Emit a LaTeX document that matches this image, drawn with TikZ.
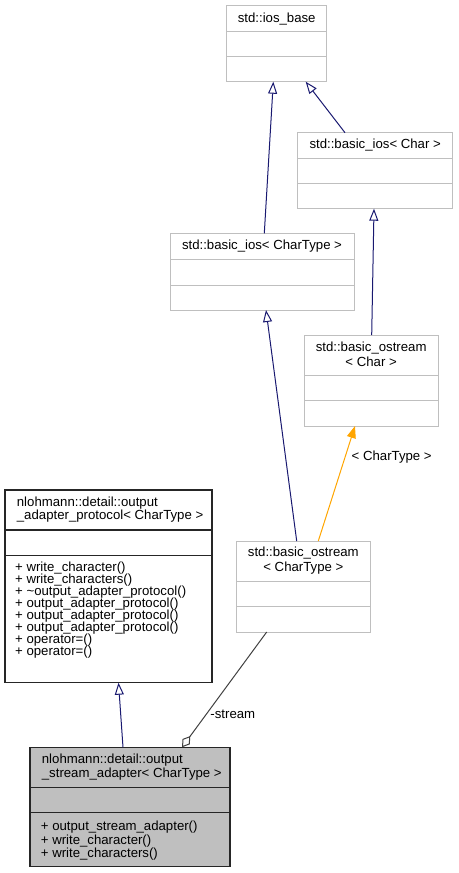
\documentclass[tikz,border=0pt]{standalone}
\usepackage{fontspec}
\setmainfont{Liberation Sans}
\usetikzlibrary{arrows.meta,calc}
\definecolor{boxgray}{HTML}{BFBFBF}
\definecolor{darkline}{HTML}{404040}
\definecolor{edgeblue}{HTML}{191970}
\definecolor{edgeorange}{HTML}{FFA500}
\lineskiplimit=-30pt
\begin{document}
\begin{tikzpicture}[x=1pt,y=-1pt,
  lightbox/.style={draw=boxgray, line width=1pt, fill=white, anchor=north west, inner sep=0pt, outer sep=0pt},
  darkbox/.style={draw=black!85, line width=1.2pt, fill=white, anchor=north west, inner sep=0pt, outer sep=0pt},
  focusbox/.style={draw=black!85, line width=1.2pt, fill=boxgray, anchor=north west, inner sep=0pt, outer sep=0pt},
  lightdiv/.style={draw=boxgray, line width=1pt},
  darkdiv/.style={draw=black!85, line width=1.2pt},
  txt/.style={inner sep=0pt, font=\fontsize{13.2}{14}\selectfont},
  inh/.style={draw=edgeblue, line width=1pt, -{Triangle[open, length=12pt, width=9pt]}},
  tmpl/.style={draw=edgeorange, line width=1pt, -{Triangle[length=12pt, width=9pt, fill=edgeorange]}},
  aggr/.style={draw=darkline, line width=1pt, -{Diamond[open, length=14pt, width=9pt]}}]
\useasboundingbox (0,0) rectangle (458,873);

% std::ios_base
\node[lightbox, minimum width=100pt, minimum height=76pt] (iosbase) at (226.7,5.7) {};
\draw[lightdiv] ($(iosbase.north west)+(0,26)$) -- ($(iosbase.north east)+(0,26)$);
\draw[lightdiv] ($(iosbase.north west)+(0,51)$) -- ($(iosbase.north east)+(0,51)$);
\node[txt] (iosbaseT) at ($(iosbase.north)+(0,13)$) {std::ios\_base};

% std::basic_ios< Char >
\node[lightbox, minimum width=155pt, minimum height=76pt] (iosChar) at (297.7,132.7) {};
\draw[lightdiv] ($(iosChar.north west)+(0,25.6)$) -- ($(iosChar.north east)+(0,25.6)$);
\draw[lightdiv] ($(iosChar.north west)+(0,50.6)$) -- ($(iosChar.north east)+(0,50.6)$);
\node[txt] (iosCharT) at ($(iosChar.north)+(0,12.8)$) {std::basic\_ios< Char >};

% std::basic_ios< CharType >
\node[lightbox, minimum width=184pt, minimum height=76.7pt] (iosCT) at (170,233.3) {};
\draw[lightdiv] ($(iosCT.north west)+(0,26)$) -- ($(iosCT.north east)+(0,26)$);
\draw[lightdiv] ($(iosCT.north west)+(0,51.7)$) -- ($(iosCT.north east)+(0,51.7)$);
\node[txt] (iosCTT) at ($(iosCT.north)+(0,13)$) {std::basic\_ios< CharType >};

% std::basic_ostream< Char >
\node[lightbox, minimum width=133.7pt, minimum height=91pt] (ostrChar) at (304.3,335) {};
\draw[lightdiv] ($(ostrChar.north west)+(0,40.3)$) -- ($(ostrChar.north east)+(0,40.3)$);
\draw[lightdiv] ($(ostrChar.north west)+(0,65.7)$) -- ($(ostrChar.north east)+(0,65.7)$);
\node[txt, align=center, font=\fontsize{13.2}{15}\selectfont] (ostrCharT) at ($(ostrChar.north)+(0,19.4)$) {std::basic\_ostream\\< Char >};

% std::basic_ostream< CharType >
\node[lightbox, minimum width=133.3pt, minimum height=91pt] (ostrCT) at (236.7,541) {};
\draw[lightdiv] ($(ostrCT.north west)+(0,40.3)$) -- ($(ostrCT.north east)+(0,40.3)$);
\draw[lightdiv] ($(ostrCT.north west)+(0,65.7)$) -- ($(ostrCT.north east)+(0,65.7)$);
\node[txt, align=center, font=\fontsize{13.2}{15}\selectfont] (ostrCTT) at ($(ostrCT.north)+(0,19.2)$) {std::basic\_ostream\\< CharType >};

% nlohmann::detail::output_adapter_protocol< CharType >
\node[darkbox, minimum width=207pt, minimum height=192.7pt] (proto) at (5,490) {};
\draw[darkdiv] ($(proto.north west)+(0,40)$) -- ($(proto.north east)+(0,40)$);
\draw[darkdiv] ($(proto.north west)+(0,65.3)$) -- ($(proto.north east)+(0,65.3)$);
\node[txt, align=left, anchor=north west, font=\fontsize{13.2}{13.5}\selectfont] (protoT) at ($(proto.north west)+(11.7,6.5)$) {nlohmann::detail::output\\\_adapter\_protocol< CharType >};
\node[txt, align=left, anchor=north west, font=\fontsize{13.2}{12}\selectfont] (protoM) at ($(proto.north west)+(10,71.5)$) {+ write\_character()\\+ write\_characters()\\+ \textasciitilde output\_adapter\_protocol()\\+ output\_adapter\_protocol()\\+ output\_adapter\_protocol()\\+ output\_adapter\_protocol()\\+ operator=()\\+ operator=()};

% nlohmann::detail::output_stream_adapter< CharType >
\node[focusbox, minimum width=200pt, minimum height=119.4pt] (adapter) at (30,747.3) {};
\draw[darkdiv] ($(adapter.north west)+(0,40)$) -- ($(adapter.north east)+(0,40)$);
\draw[darkdiv] ($(adapter.north west)+(0,65.4)$) -- ($(adapter.north east)+(0,65.4)$);
\node[txt, align=left, anchor=north west, font=\fontsize{13.2}{14.3}\selectfont] (adapterT) at ($(adapter.north west)+(11.7,6.3)$) {nlohmann::detail::output\\\_stream\_adapter< CharType >};
\node[txt, align=left, anchor=north west, font=\fontsize{13.2}{13.7}\selectfont] (adapterM) at ($(adapter.north west)+(10.7,73.3)$) {+ output\_stream\_adapter()\\+ write\_character()\\+ write\_characters()};

% connectors
\draw[inh] ($(iosCT.north west)+(94.3,0)$) -- ($(iosbase.south west)+(46.6,0)$);
\draw[inh] ($(iosChar.north west)+(47.3,0)$) -- ($(iosbase.south west)+(79,0)$);
\draw[inh] ($(ostrChar.north west)+(67.4,0)$) -- ($(iosChar.south west)+(76.3,0)$);
\draw[inh] ($(ostrCT.north west)+(60,0)$) -- ($(iosCT.south west)+(96,0)$);
\draw[tmpl] ($(ostrCT.north west)+(81.6,0)$) -- ($(ostrChar.south west)+(50.7,0)$)
  node[txt, pos=0.733, anchor=west, xshift=6pt, text=black] (tmplL) {< CharType >};
\draw[inh] ($(adapter.north west)+(93,0)$) -- ($(proto.south west)+(113.5,0)$);
\draw[aggr] ($(ostrCT.south west)+(30,0)$) -- ($(adapter.north west)+(152,0)$)
  node[txt, pos=0.711, anchor=west, xshift=3.5pt, text=black] (aggrL) {-stream};
\end{tikzpicture}
\end{document}
